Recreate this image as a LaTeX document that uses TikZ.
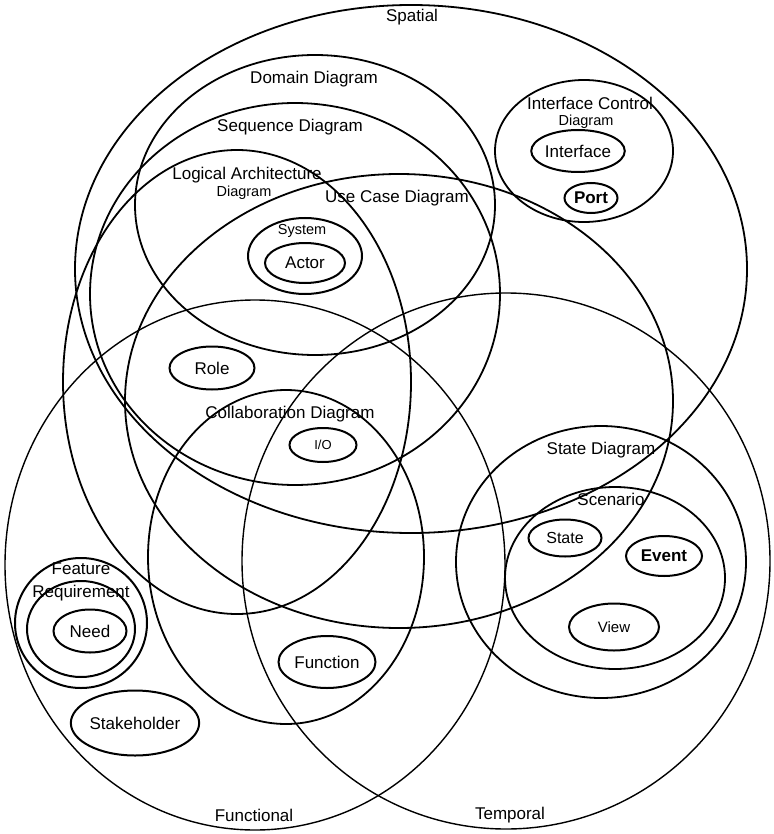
\documentclass[tikz,border=0pt]{standalone}
\usepackage{fontspec}
\setmainfont{Liberation Sans}
\usetikzlibrary{shapes.geometric}

\begin{document}
\begin{tikzpicture}[x=1pt,y=-1pt,
  ring/.style={line width=1.8pt},
  thinring/.style={line width=1.4pt},
  blob/.style={draw,ellipse,line width=2pt,inner sep=0pt},
  lbl/.style={font=\fontsize{17}{19}\selectfont,inner sep=0pt},
  sublbl/.style={font=\fontsize{14.5}{16}\selectfont,inner sep=0pt}]
\useasboundingbox (0,0) rectangle (773,834);
% the three aspects
\coordinate (Sp) at (411,269);
\coordinate (Fn) at (255,565);
\coordinate (Tp) at (506,561);
\draw[ring] (Sp) ellipse [x radius=336pt, y radius=264pt];
\draw[thinring] (Fn) ellipse [x radius=250pt, y radius=265pt];
\draw[thinring] (Tp) ellipse [x radius=264pt, y radius=268pt];
% diagrams
\coordinate (Dom) at (315,205);
\coordinate (Seq) at (295,294);
\coordinate (Log) at (237,382);
\coordinate (Use) at (399,401);
\coordinate (Icd) at (584,151);
\coordinate (Col) at (286,557);
\coordinate (Sta) at (601,562);
\draw[ring] (Dom) ellipse [x radius=180pt, y radius=150pt];
\draw[ring] (Seq) ellipse [x radius=205pt, y radius=191pt];
\draw[ring] (Log) ellipse [x radius=174pt, y radius=232pt];
\draw[ring] (Use) ellipse [x radius=274pt, y radius=227pt];
\draw[ring] (Icd) ellipse [x radius=89pt, y radius=71pt];
\draw[ring] (Col) ellipse [x radius=138pt, y radius=167pt];
\draw[ring] (Sta) ellipse [x radius=145pt, y radius=136pt];
% nested groups
\coordinate (Sys) at (305,256);
\coordinate (Scn) at (615,578);
\coordinate (Fea) at (81,623);
\coordinate (Req) at (81,629);
\draw[line width=2pt] (Sys) ellipse [x radius=57pt, y radius=38pt];
\draw[ring] (Scn) ellipse [x radius=110pt, y radius=91pt];
\draw[line width=2pt] (Fea) ellipse [x radius=66pt, y radius=65pt];
\draw[line width=2pt] (Req) ellipse [x radius=54pt, y radius=48pt];
% elements
\node[blob,lbl,minimum width=80pt,minimum height=42pt] (interface) at (578,151) {Interface};
\node[blob,lbl,font=\fontsize{17}{19}\selectfont\bfseries,minimum width=53pt,minimum height=30pt] (port) at (591,198) {Port};
\node[blob,lbl,minimum width=80pt,minimum height=40pt] (actor) at (305,263) {Actor};
\node[blob,lbl,minimum width=85pt,minimum height=43pt] (role) at (212,368) {Role};
\node[blob,font=\fontsize{13}{15}\selectfont,inner sep=0pt,minimum width=67pt,minimum height=34pt] (io) at (323,445) {I/O};
\node[blob,font=\fontsize{16}{18}\selectfont,minimum width=73pt,minimum height=37pt] (state) at (565,538) {State};
\node[blob,lbl,font=\fontsize{17}{19}\selectfont\bfseries,minimum width=76pt,minimum height=40pt] (event) at (664,556) {Event};
\node[blob,font=\fontsize{15}{17}\selectfont,minimum width=90pt,minimum height=47pt] (view) at (614,627) {View};
\node[blob,lbl,minimum width=73pt,minimum height=43pt] (need) at (90,631) {Need};
\node[blob,lbl,minimum width=97pt,minimum height=52pt] (function) at (327,662) {Function};
\node[blob,lbl,minimum width=120pt,minimum height=65pt] (stakeholder) at (135,723) {Stakeholder};
% labels
\node[lbl] (spatial) at (412,17) {Spatial};
\node[lbl] (functional) at (254,815) {Functional};
\node[lbl] (temporal) at (510,815) {Temporal};
\node[lbl] (domain) at (314,79) {Domain Diagram};
\node[lbl] (sequence) at (290,127) {Sequence Diagram};
\node[lbl] (logical) at (247,175) {Logical Architecture};
\node[sublbl] (logical2) at (244,193) {Diagram};
\node[lbl] (usecase) at (397,198) {Use Case Diagram};
\node[lbl] (icd) at (590,103) {Interface Control};
\node[sublbl] (icd2) at (586,122) {Diagram};
\node[sublbl] (system) at (302,231) {System};
\node[lbl] (collab) at (290,414) {Collaboration Diagram};
\node[lbl] (statediag) at (601,450) {State Diagram};
\node[lbl] (scenario) at (611,499) {Scenario};
\node[lbl] (feature) at (81,569) {Feature};
\node[lbl] (requirement) at (81,593) {Requirement};
\end{tikzpicture}
\end{document}
